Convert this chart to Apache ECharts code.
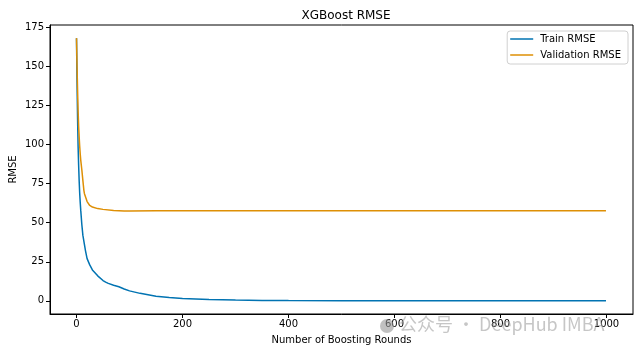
<!DOCTYPE html>
<html>
<head>
<meta charset="utf-8">
<script src="https://cdn.jsdelivr.net/npm/echarts@6/dist/echarts.min.js"></script>
<style>html,body{margin:0;padding:0;background:#fff}#c{width:640px;height:354px}</style>
</head>
<body>
<div id="c"></div>
<script>
const chartTitle = 'XGBoost RMSE';
const xLabel = 'Number of Boosting Rounds';
const yLabel = 'RMSE';
const seriesNames = ['Train RMSE', 'Validation RMSE'];
const xTicks = [0, 200, 400, 600, 800, 1000];
const yTicks = [0, 25, 50, 75, 100, 125, 150, 175];

const trainRounds = [0, 1, 2, 3, 4, 5, 6, 7, 8, 10, 12, 15, 17, 20, 25, 30, 40, 50, 55, 60, 70, 80, 90, 100, 120, 150, 175, 200, 250, 300, 350, 400, 500, 600, 800, 999];
const trainRmse   = [168, 140, 117, 99, 87, 77, 69, 63, 58, 49, 42, 36, 32, 27, 23, 19.8, 16, 13, 12, 11.2, 10, 9, 7.6, 6.4, 4.8, 3.0, 2.2, 1.5, 0.9, 0.5, 0.3, 0.18, 0.08, 0.04, 0.02, 0.01];

const valRounds = [0, 1, 2, 3, 4, 5, 6, 7, 8, 10, 12, 14, 15, 20, 25, 30, 40, 50, 70, 90, 100, 150, 200, 300, 400, 500, 600, 700, 800, 900, 999];
const valRmse   = [168, 150, 135, 122, 112, 105, 99, 94, 90, 84, 77, 70.5, 68.5, 63.5, 61, 60, 59, 58.5, 57.8, 57.4, 57.5, 57.6, 57.7, 57.7, 57.7, 57.7, 57.7, 57.7, 57.7, 57.7, 57.6];

const colors = ['#0173b2', '#de8f05'];
const font = 'DejaVu Sans';

const chart = echarts.init(document.getElementById('c'), null, {renderer: 'canvas'});
const pairs = (xs, ys) => xs.map((x, i) => [x, ys[i]]);

chart.setOption({
  animation: false,
  backgroundColor: '#fff',
  title: {
    text: chartTitle, left: 341, top: 5, textAlign: 'center',
    textStyle: {fontFamily: font, fontSize: 12, fontWeight: 'normal', color: '#000'}
  },
  grid: {left: 50, right: 7, top: 25, bottom: 40, show: true, borderColor: '#000', borderWidth: 1,
         containLabel: false, outerBoundsMode: 'none'},
  legend: {
    orient: 'vertical', right: 12, top: 31,
    data: seriesNames,
    icon: 'rect',
    itemWidth: 23, itemHeight: 1.5, itemGap: 4,
    padding: [2, 7, 3, 3],
    borderColor: '#d0d0d0', borderWidth: 1, borderRadius: 3,
    textStyle: {fontFamily: font, fontSize: 10, lineHeight: 12, color: '#000', padding: [0, 0, 0, 2]}
  },
  xAxis: {
    type: 'value', min: -50, max: 1050,
    name: xLabel, nameLocation: 'middle', nameGap: 21, nameMoveOverlap: false,
    nameTextStyle: {fontFamily: font, fontSize: 10, color: '#000'},
    axisLine: {show: true, onZero: false, lineStyle: {color: '#000', width: 1}},
    axisTick: {show: true, length: 4, customValues: xTicks, lineStyle: {color: '#000'}},
    axisLabel: {customValues: xTicks, formatter: v => String(v), fontFamily: font, fontSize: 10, color: '#000', margin: 5},
    splitLine: {show: false}
  },
  yAxis: {
    type: 'value', min: -8.4, max: 176.4,
    name: yLabel, nameLocation: 'middle', nameGap: 32, nameRotate: 90, nameMoveOverlap: false,
    nameTextStyle: {fontFamily: font, fontSize: 10, color: '#000'},
    axisLine: {show: true, onZero: false, lineStyle: {color: '#000', width: 1}},
    axisTick: {show: true, length: 4, customValues: yTicks, lineStyle: {color: '#000'}},
    axisLabel: {customValues: yTicks, formatter: v => String(v), fontFamily: font, fontSize: 10, color: '#000', margin: 6},
    splitLine: {show: false}
  },
  series: [
    {name: seriesNames[0], type: 'line', data: pairs(trainRounds, trainRmse), symbol: 'none',
     lineStyle: {color: colors[0], width: 1.5}, itemStyle: {color: colors[0]}},
    {name: seriesNames[1], type: 'line', data: pairs(valRounds, valRmse), symbol: 'none',
     lineStyle: {color: colors[1], width: 1.5}, itemStyle: {color: colors[1]}}
  ],
  graphic: [
    {type: 'circle', shape: {cx: 387, cy: 326, r: 7}, style: {fill: 'rgba(150,150,150,0.6)'}, z: 100},
    {type: 'text', left: 399, top: 315,
     style: {text: '公众号 · DeepHub IMBA', fontFamily: 'Noto Sans CJK SC', fontSize: 18, fill: 'rgba(160,160,160,0.6)'}, z: 100}
  ]
});
</script>
</body>
</html>
